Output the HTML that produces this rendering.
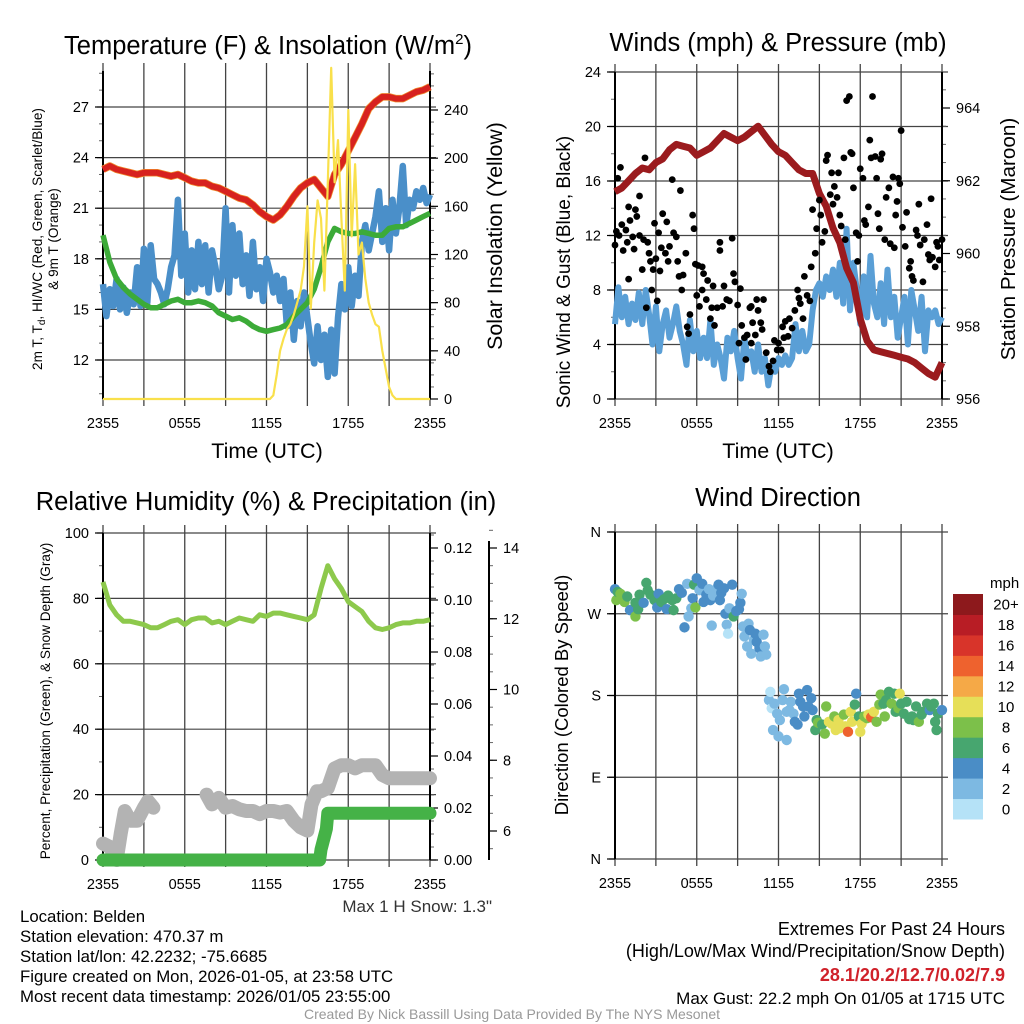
<!DOCTYPE html>
<html><head><meta charset="utf-8"><style>
html,body{margin:0;padding:0;background:#fff;}
svg{display:block;font-family:"Liberation Sans",Arial,sans-serif;}
</style></head><body>
<svg id="fig" xmlns="http://www.w3.org/2000/svg" width="1024" height="1024" viewBox="0 0 1024 1024">
<rect x="0" y="0" width="1024" height="1024" fill="#fff"/>
<g id="layer"></g>
<g font-size="25.5" fill="#000" text-anchor="middle">
<text x="268" y="54">Temperature (F) &amp; Insolation (W/m<tspan font-size="15" dy="-10">2</tspan><tspan dy="10">)</tspan></text>
<text x="778" y="51">Winds (mph) &amp; Pressure (mb)</text>
<text x="266" y="510">Relative Humidity (%) &amp; Precipitation (in)</text>
<text x="778" y="506">Wind Direction</text>
</g>
<g font-size="21.5" text-anchor="middle">
<text x="267" y="458">Time (UTC)</text>
<text x="778" y="458">Time (UTC)</text>
<text transform="translate(42,239) rotate(-90)" font-size="13.6">2m T, T<tspan font-size="10" dy="3">d</tspan><tspan dy="-3">, HI/WC (Red, Green, Scarlet/Blue)</tspan></text>
<text transform="translate(58,239) rotate(-90)" font-size="13.6">&amp; 9m T (Orange)</text>
<text transform="translate(502,236) rotate(-90)" font-size="21.3">Solar Insolation (Yellow)</text>
<text transform="translate(570,272) rotate(-90)" font-size="19">Sonic Wind &amp; Gust (Blue, Black)</text>
<text transform="translate(1015,239) rotate(-90)" font-size="20.7">Station Pressure (Maroon)</text>
<text transform="translate(50,701) rotate(-90)" font-size="13.6">Percent, Precipitation (Green), &amp; Snow Depth (Gray)</text>
<text transform="translate(568,695) rotate(-90)" font-size="18.5">Direction (Colored By Speed)</text>
</g>
<g font-size="16.8">
<text x="492" y="912" text-anchor="end" fill="#333" font-size="17">Max 1 H Snow: 1.3"</text>
<text x="20" y="922">Location: Belden</text>
<text x="20" y="942">Station elevation: 470.37 m</text>
<text x="20" y="962">Station lat/lon: 42.2232; -75.6685</text>
<text x="20" y="982">Figure created on Mon, 2026-01-05, at 23:58 UTC</text>
<text x="20" y="1002">Most recent data timestamp: 2026/01/05 23:55:00</text>
<text x="1005" y="935" text-anchor="end" font-size="18">Extremes For Past 24 Hours</text>
<text x="1005" y="957" text-anchor="end" font-size="18">(High/Low/Max Wind/Precipitation/Snow Depth)</text>
<text x="1005" y="981" text-anchor="end" fill="#d0212a" font-weight="bold" font-size="18">28.1/20.2/12.7/0.02/7.9</text>
<text x="1005" y="1004" text-anchor="end" font-size="17">Max Gust: 22.2 mph On 01/05 at 1715 UTC</text>
<text x="512" y="1019" text-anchor="middle" font-size="14" fill="#999">Created By Nick Bassill Using Data Provided By The NYS Mesonet</text>
</g>
</svg>
<script>
// ===== data =====
var xTickHours = [0, 6, 12, 18, 24];
var xTickLabels = ["2355", "0555", "1155", "1755", "2355"];
var tempVals = [23.3,23.5,23.3,23.2,23.1,23.0,23.1,23.1,23.1,23.0,22.9,23.0,22.8,22.6,22.5,22.5,22.3,22.2,22.0,21.8,21.6,21.5,21.2,20.8,20.5,20.3,20.6,21.1,21.7,22.2,22.5,22.7,22.2,21.7,23.0,23.6,24.4,25.2,26.0,26.9,27.3,27.6,27.6,27.5,27.5,27.7,27.9,28.0,28.2];
var dewVals = [19.4,17.8,16.8,16.3,15.9,15.6,15.3,15.1,15.1,15.3,15.5,15.6,15.4,15.4,15.5,15.4,15.2,14.8,14.6,14.4,14.5,14.3,14.0,13.8,13.7,13.8,13.9,14.1,14.6,15.0,15.4,16.2,17.5,19.0,19.8,19.6,19.5,19.5,19.6,19.5,19.4,19.4,19.8,19.9,19.9,20.1,20.3,20.5,20.7];
var chillVals = [16.5,14.6,16.2,15.2, 16.8,15.0,16.3,14.8, 16.0,15.3,17.5,15.2, 18.6,15.4,18.8,16.8, 16.5,16.0,15.3,16.2, 17.5,18.2,21.5,17.0, 19.5,16.0,18.5,16.2, 19.0,16.5,18.8,16.0, 18.5,17.5,16.2,17.0, 21.0,16.0,20.0,17.0, 19.5,16.5,18.2,15.8, 19.0,16.2,17.5,15.5, 18.0,17.2,16.0,17.0, 15.5,16.8,14.0,16.0, 13.2,15.5,14.0,16.0, 14.5,13.0,11.8,14.0, 12.0,13.5,11.0,13.8, 11.2,14.5,16.5,15.0, 17.5,15.2,17.0,15.8, 19.0,20.0,18.5,19.5, 20.5,22.0,19.0,21.0, 18.5,21.5,19.5,21.0, 23.5,20.0,21.5,21.0, 22.0,21.5,22.2,21.3, 21.8];
var solarHours = [0,12,12.25,12.5,12.75,13,13.25,13.5,13.75,14,14.25,14.5,14.75,15,15.25,15.5,15.75,16,16.25,16.5,16.75,17,17.25,17.5,17.75,18,18.25,18.5,18.75,19,19.25,19.5,19.75,20,20.25,20.5,20.75,21,21.25,21.5,24];
var solarVals = [0,0,0,3,20,40,50,58,62,70,80,90,110,160,75,130,165,150,90,180,275,180,215,150,90,240,135,195,120,130,100,80,70,62,60,40,25,10,3,0,0];
var windVals = [5.5,8.2,6.0,7.5, 5.5,7.0,5.8,7.8, 5.5,8.0,6.2,4.0, 6.8,3.5,5.5,6.5, 4.5,5.5,6.8,5.0, 4.0,2.5,5.8,3.5, 5.0,3.0,4.5,3.0, 5.8,2.5,4.0,3.0, 1.5,4.5,3.5,5.0, 3.0,1.5,4.5,3.0, 3.5,2.0,4.0,2.0, 3.0,1.0,2.5,2.0, 3.0,2.5,3.2,2.5, 3.0,5.5,3.5,5.0, 3.5,4.0,6.5,8.0, 8.5,7.5,9.0,8.0, 9.5,7.5,10.0,7.0, 12.5,6.5,10.0,8.0, 5.5,9.0,6.0,10.5, 7.0,6.0,8.5,5.5, 9.5,6.0,7.5,4.5, 6.0,7.5,4.0,8.0, 6.5,5.0,7.5,3.5, 6.5,6.0,6.5,5.5, 6.0];
var pressVals = [961.7,961.8,962.0,962.2,962.35,962.3,962.5,962.6,962.85,963.0,962.95,962.9,962.7,962.8,962.9,963.1,963.3,963.2,963.1,963.2,963.35,963.5,963.25,963.0,962.8,962.7,962.5,962.3,962.2,962.2,961.65,961.3,960.7,960.3,959.6,959.2,958.2,957.6,957.35,957.3,957.25,957.2,957.15,957.1,957.0,956.85,956.7,956.6,957.0];
var gustHours = [0,0.1,0.2,0.4,0.3,0.5,0.6,0.8,0.9,1.0,1.0,1.1,1.3,1.4,1.5,1.6,1.8,1.8,2.0,2.1,2.2,2.3,2.4,2.5,2.6,2.7,2.8,2.9,3.0,3.1,3.2,3.3,3.4,3.5,3.7,3.8,3.9,4.0,4.2,4.3,4.5,4.6,4.7,4.8,4.9,5.0,5.2,5.3,5.4,5.5,5.7,5.8,5.9,6.0,6.1,6.2,6.4,6.4,6.5,6.7,6.8,7.0,7.1,7.2,7.3,7.5,7.7,7.7,7.9,8.0,8.2,8.4,8.6,8.7,8.8,9.0,9.1,9.2,9.3,9.5,9.6,9.7,9.9,10.0,10.0,10.1,10.3,10.4,10.5,10.7,10.8,10.9,11.1,11.3,11.4,11.6,11.7,11.9,12.0,12.2,12.3,12.4,12.5,12.7,12.8,13.0,13.2,13.4,13.5,13.6,13.8,13.9,14.1,14.3,14.4,14.5,14.7,14.8,15.0,15.1,15.2,15.4,15.5,15.6,15.8,15.9,16.0,16.1,16.3,16.4,16.5,16.6,16.8,16.9,17.0,17.2,17.3,17.4,17.5,17.7,17.8,17.9,18.0,18.2,18.3,18.4,18.6,18.7,18.8,18.9,19.1,19.2,19.3,19.4,19.5,19.6,19.8,19.9,20.1,20.2,20.4,20.5,20.6,20.7,20.8,20.9,21.0,21.1,21.3,21.4,21.6,21.7,21.8,21.9,22.1,22.2,22.3,22.4,22.6,22.7,22.9,23.0,23.1,23.2,23.3,23.5,23.6,23.7,23.8,24.0];
var gustVals = [11.3,12.3,16.2,17.0,12.0,12.8,10.9,12.4,11.5,14.1,8.8,13.1,11.9,11.0,13.9,13.4,14.9,12.0,9.5,11.7,17.7,6.7,11.5,10.7,10.1,8.0,9.5,12.9,10.3,7.2,12.2,9.4,11.1,13.6,10.7,13.0,10.1,11.2,16.1,12.2,11.9,10.1,9.0,15.3,8.0,9.1,10.7,5.3,4.8,6.2,13.5,12.5,9.9,7.6,9.8,6.8,8.0,9.7,9.2,7.3,8.7,5.9,6.7,8.3,5.4,6.7,10.9,11.5,6.8,8.3,7.3,7.2,11.8,9.2,8.6,6.9,4.1,8.1,5.4,4.5,2.9,4.7,6.7,4.1,6.8,5.6,4.7,7.3,6.5,5.6,5.1,7.3,3.4,2.4,2.0,2.8,4.3,3.6,4.1,3.6,5.3,4.5,5.7,4.6,5.9,5.2,6.5,8.0,7.4,7.0,5.9,9.0,7.6,7.2,9.7,13.9,10.7,12.5,14.6,13.5,11.5,12.3,17.5,17.9,15.0,16.6,14.3,15.6,14.8,16.6,13.5,12.7,17.7,11.7,21.9,22.2,18.1,18.0,15.5,12.2,10.1,12.0,16.9,16.2,13.1,12.8,14.1,19.0,17.7,22.2,17.8,16.2,13.6,12.5,17.6,18.0,11.7,14.8,15.5,11.4,16.3,11.1,13.5,14.5,16.2,15.8,19.7,12.6,11.2,13.7,9.6,10.1,9.0,8.7,12.4,12.0,14.3,11.3,8.6,11.7,12.8,10.6,10.2,14.7,10.4,9.7,11.5,11.2,10.2,11.7];
var rhVals = [85,78,75,73,73,72.5,72,71,71,72,73,73.5,72,73.5,74,74,72.5,73,72,73,74,73.5,73,75,74.5,75.5,75.5,75,74.5,74,73.5,75,83,90,86,83,79,77.5,76,73,71,70.5,71,72,72.5,72.5,73,73,73.5];
var snowHours1 = [0,0.5,1.0,1.3,1.6,2.0,2.5,3.0,3.3,3.7];
var snowVals1 = [5,4,0,8,15,12,12,16,18,16];
var snowHours2 = [7.6,8.0,8.5,9.0,9.5,10.0,10.5,11.0,11.5,12.0,12.5,13.0,13.5,14.0,14.5,15.0,15.3,15.7,16.0,16.5,17.0,17.5,18.0,18.5,19.0,19.5,20.0,20.5,21.0,22.0,23.0,24.0];
var snowVals2 = [20,17,19,16,16.5,15.5,15,15,14,15,15,14.5,15,12,10,9,17,21,21,22,28,29,29,28,29,29,29,26,25,25,25,25];
var precipHours = [0,15.9,16.0,16.2,16.4,16.5,24];
var precipVals = [0,0,0.004,0.008,0.012,0.018,0.018];
var dirHours = [0,0.1,0.2,0.4,0.7,0.9,1.1,1.5,1.5,1.7,1.8,2.1,2.3,2.4,2.6,2.9,3.1,3.2,3.4,3.6,3.8,3.9,4.2,4.3,4.5,4.7,4.9,5.1,5.3,5.4,5.6,5.7,5.8,5.9,6.0,6.2,6.4,6.5,6.7,6.9,7.0,7.1,7.2,7.5,7.6,7.7,7.8,8.0,8.1,8.2,8.3,8.4,8.6,8.7,8.9,9.1,9.2,9.3,9.4,9.5,9.7,9.8,9.9,10.0,10.2,10.3,10.4,10.6,10.7,10.9,11.0,11.1,11.3,11.4,11.5,11.6,11.7,11.9,12.0,12.1,12.3,12.4,12.6,12.6,12.8,12.9,13.1,13.2,13.4,13.5,13.6,13.8,13.9,14.1,14.2,14.4,14.5,14.7,14.8,14.9,15.2,15.4,15.5,15.7,15.9,16.1,16.2,16.4,16.5,16.8,16.9,17.1,17.3,17.4,17.6,17.7,17.9,18.0,18.1,18.3,18.5,18.6,18.8,19.0,19.2,19.4,19.5,19.7,19.8,19.9,20.1,20.3,20.5,20.6,20.8,20.9,21.0,21.2,21.4,21.6,21.8,21.9,22.1,22.3,22.5,22.6,22.9,23.1,23.2,23.4,23.5,23.6,23.7,24.0];
var dirVals = [297,285,294,292,283,289,274,282,267,275,291,282,304,296,291,285,277,292,283,286,275,290,285,274,287,297,293,255,303,267,276,287,302,277,309,296,303,283,291,297,285,257,290,298,302,285,293,298,270,258,248,276,302,267,273,275,282,292,256,245,234,259,252,226,241,248,239,232,223,247,234,225,175,184,166,142,171,160,135,153,175,187,162,131,164,173,160,151,148,182,173,168,157,186,168,177,164,142,153,150,148,138,168,151,149,157,142,153,144,159,146,140,162,151,170,182,157,140,149,157,155,159,156,162,151,170,181,171,157,175,184,171,182,162,166,182,171,160,173,154,157,153,168,151,159,162,171,164,168,171,151,142,160,164];
var dirSpeeds = [4,8,6,8,8,6,4,6,8,6,6,4,6,6,6,6,4,4,6,6,4,6,6,6,6,4,4,4,2,2,2,4,6,8,4,2,4,4,4,2,4,2,2,2,4,4,4,4,4,2,0,2,4,6,4,4,4,2,2,2,2,2,4,2,2,4,4,4,2,2,2,2,2,0,0,2,2,2,2,2,2,2,2,2,2,2,2,4,4,4,4,4,4,4,4,4,4,6,6,8,6,8,8,10,10,8,10,10,10,8,10,14,10,10,6,4,6,10,10,8,8,10,14,10,8,8,8,6,8,6,6,8,6,6,8,10,6,6,6,6,6,6,6,8,6,6,6,4,6,6,6,6,6,4];
var speedBins = ["0","2","4","6","8","10","12","14","16","18","20+"];
var speedColors = ["#b5e2f7","#7db9e2","#4a8dc6","#47a66f","#7cc04a","#e6df58","#f5a947","#ee622e","#d8342a","#b81d25","#8d191c"];

// ===== helpers =====
var NS = "http://www.w3.org/2000/svg";
var layer = document.getElementById("layer");
function mk(tag, attrs, parent) {
  var e = document.createElementNS(NS, tag);
  for (var k in attrs) e.setAttribute(k, attrs[k]);
  (parent || layer).appendChild(e);
  return e;
}
function lin(d0, d1, r0, r1) { return function (v) { return r0 + (v - d0) * (r1 - r0) / (d1 - d0); }; }
function pathFrom(xs, ys, xf, yf) {
  var d = "";
  for (var i = 0; i < xs.length; i++) {
    if (ys[i] === null) continue;
    d += (d ? "L" : "M") + xf(xs[i]).toFixed(1) + "," + yf(ys[i]).toFixed(1);
  }
  return d;
}
function seq(n, step) { var a = []; for (var i = 0; i < n; i++) a.push(i * step); return a; }
var half = seq(49, 0.5), quarter = seq(97, 0.25);

function frame(P, name) {
  var g = mk("g", {});
  
  
  for (var h = 0; h <= 24; h += 3) {
    var x = P.x(h);
    var l = mk("line", {x1: x, x2: x, y1: P.y0 - 8, y2: P.y1 + 7, stroke: "#444", "stroke-width": 1.3}, g);
    
    
  }
  xTickHours.forEach(function (h, i) {
    var t = mk("text", {x: P.x(h), y: P.y1 + 29, "font-size": 14.5, "text-anchor": "middle"}, g);
    t.textContent = xTickLabels[i];
    
    
  });
  return g;
}
function hgrid(P, g, ys) {
  ys.forEach(function (y) {
    var l = mk("line", {x1: P.x0 - 6, x2: P.x1 + 6, y1: y, y2: y, stroke: "#444", "stroke-width": 1.2}, g);
    
    
  });
}
function axisLine(x, y0, y1, g) {
  var l = mk("line", {x1: x, x2: x, y1: y0, y2: y1, stroke: "#000", "stroke-width": 2}, g);
  
  
}
function ticks(g, x, dir, scale, vals, labels, minors) {
  minors.forEach(function (v) {
    var y = scale(v);
    var t = mk("line", {x1: x, x2: x + dir * 4, y1: y, y2: y, stroke: "#666", "stroke-width": 1}, g);
    
    
  });
  vals.forEach(function (v, i) {
    var y = scale(v);
    var t = mk("line", {x1: x, x2: x + dir * 8, y1: y, y2: y, stroke: "#000", "stroke-width": 1.2}, g);
    
    
    var tx = mk("text", {x: x + dir * 14, y: y + 5, "font-size": 14.5, "text-anchor": dir < 0 ? "end" : "start"}, g);
    tx.textContent = labels[i];
    
    
  });
}
function range(a, b, s) { var r = []; for (var v = a; v <= b + 1e-9; v += s) r.push(Math.round(v * 1000) / 1000); return r; }

// ===== Panel 1 =====
var P1 = {x0: 103, x1: 430, y0: 71, y1: 399};
P1.x = lin(0, 24, P1.x0, P1.x1);
var t1 = lin(27, 12, 107, 360);
var s1 = lin(0, 240, 399, 110);
var g1 = frame(P1, "temp-panel");
hgrid(P1, g1, [12, 15, 18, 21, 24, 27].map(t1));
ticks(g1, P1.x0, -1, t1, [12, 15, 18, 21, 24, 27], ["12", "15", "18", "21", "24", "27"], range(10, 29, 1));
ticks(g1, P1.x1, 1, s1, [0, 40, 80, 120, 160, 200, 240], ["0", "40", "80", "120", "160", "200", "240"], range(0, 270, 10));
axisLine(P1.x0, P1.y0, P1.y1, g1); axisLine(P1.x1, P1.y0, P1.y1, g1);
var e;
e = mk("path", {d: pathFrom(quarter, chillVals, P1.x, t1), fill: "none", stroke: "#4a8fc9", "stroke-width": 6.5, "stroke-linejoin": "round"});


e = mk("path", {d: pathFrom(half, dewVals, P1.x, t1), fill: "none", stroke: "#3cab38", "stroke-width": 5.5, "stroke-linejoin": "round"});


e = mk("path", {d: pathFrom(half, tempVals, P1.x, t1), fill: "none", stroke: "#f08a2c", "stroke-width": 7.5, "stroke-linejoin": "round"});


e = mk("path", {d: pathFrom(half, tempVals, P1.x, t1), fill: "none", stroke: "#d7221f", "stroke-width": 6, "stroke-linejoin": "round"});


e = mk("path", {d: pathFrom(solarHours, solarVals, P1.x, s1), fill: "none", stroke: "#f9e04b", "stroke-width": 2.2, "stroke-linejoin": "round"});



// ===== Panel 2 =====
var P2 = {x0: 615, x1: 942, y0: 72, y1: 399};
P2.x = lin(0, 24, P2.x0, P2.x1);
var w2 = lin(0, 24, 399, 72);
var p2 = lin(956, 964, 399, 108);
var g2 = frame(P2, "winds-panel");
hgrid(P2, g2, [0, 4, 8, 12, 16, 20, 24].map(w2));
ticks(g2, P2.x0, -1, w2, [0, 4, 8, 12, 16, 20, 24], ["0", "4", "8", "12", "16", "20", "24"], range(0, 24, 2));
ticks(g2, P2.x1, 1, p2, [956, 958, 960, 962, 964], ["956", "958", "960", "962", "964"], range(956, 964.8, 0.5));
axisLine(P2.x0, P2.y0, P2.y1, g2); axisLine(P2.x1, P2.y0, P2.y1, g2);
e = mk("path", {d: pathFrom(quarter, windVals, P2.x, w2), fill: "none", stroke: "#5a9fd6", "stroke-width": 6, "stroke-linejoin": "round"});


e = mk("path", {d: pathFrom(half, pressVals, P2.x, p2), fill: "none", stroke: "#9b1b1e", "stroke-width": 7, "stroke-linejoin": "round"});


gustHours.forEach(function (h, i) {
  var c = mk("circle", {cx: P2.x(h), cy: w2(gustVals[i]), r: 3.4, fill: "#000"});
  
  
});

// ===== Panel 3 =====
var P3 = {x0: 103, x1: 430, y0: 533, y1: 860};
P3.x = lin(0, 24, P3.x0, P3.x1);
var r3 = lin(0, 100, 860, 533);
var q3 = lin(0, 0.12, 860, 548);
var sn3 = lin(6, 14, 831, 548);
var g3 = frame(P3, "humidity-panel");
hgrid(P3, g3, [0, 20, 40, 60, 80, 100].map(r3));
ticks(g3, P3.x0, -1, r3, [0, 20, 40, 60, 80, 100], ["0", "20", "40", "60", "80", "100"], range(0, 100, 10));
ticks(g3, P3.x1, 1, q3, [0, 0.02, 0.04, 0.06, 0.08, 0.1, 0.12], ["0.00", "0.02", "0.04", "0.06", "0.08", "0.10", "0.12"], range(0, 0.125, 0.005));
ticks(g3, 489, 1, sn3, [6, 8, 10, 12, 14], ["6", "8", "10", "12", "14"], range(5.5, 14.5, 0.5));
axisLine(P3.x0, P3.y0, P3.y1, g3); axisLine(P3.x1, P3.y0, P3.y1, g3); axisLine(489, 541, P3.y1, g3);
e = mk("path", {d: pathFrom(snowHours1, snowVals1, P3.x, r3), fill: "none", stroke: "#b3b3b3", "stroke-width": 14, "stroke-linejoin": "round", "stroke-linecap": "round"});


e = mk("path", {d: pathFrom(snowHours2, snowVals2, P3.x, r3), fill: "none", stroke: "#b3b3b3", "stroke-width": 14, "stroke-linejoin": "round", "stroke-linecap": "round"});


e = mk("path", {d: pathFrom(precipHours, precipVals, P3.x, q3), fill: "none", stroke: "#45b247", "stroke-width": 13, "stroke-linejoin": "round", "stroke-linecap": "round"});


e = mk("path", {d: pathFrom(half, rhVals, P3.x, r3), fill: "none", stroke: "#8dc94c", "stroke-width": 5, "stroke-linejoin": "round"});



// ===== Panel 4 =====
var P4 = {x0: 615, x1: 942, y0: 532, y1: 859};
P4.x = lin(0, 24, P4.x0, P4.x1);
var d4 = lin(0, 360, 859, 532);
var g4 = frame(P4, "direction-panel");
hgrid(P4, g4, [0, 90, 180, 270, 360].map(d4));
ticks(g4, P4.x0, -1, d4, [0, 90, 180, 270, 360], ["N", "E", "S", "W", "N"], []);
axisLine(P4.x0, P4.y0, P4.y1, g4);
dirHours.forEach(function (h, i) {
  var idx = Math.min(10, Math.max(0, Math.round(dirSpeeds[i] / 2)));
  var c = mk("circle", {cx: P4.x(h), cy: d4(dirVals[i]), r: 5.2, fill: speedColors[idx]});
  
  
});
var lg = mk("g", {});


var lt = mk("text", {x: 990, y: 588, "font-size": 15}, lg);
lt.textContent = "mph";


var bh = (819 - 594) / speedBins.length;
speedBins.forEach(function (lab, i) {
  var y = 819 - (i + 1) * bh;
  var r = mk("rect", {x: 953, y: y, width: 30, height: bh + 0.5, fill: speedColors[i]}, lg);
  
  
  var t = mk("text", {x: 1006, y: y + bh / 2 + 5.5, "font-size": 15, "text-anchor": "middle"}, lg);
  t.textContent = lab;
  
  
});
</script>
</body></html>
